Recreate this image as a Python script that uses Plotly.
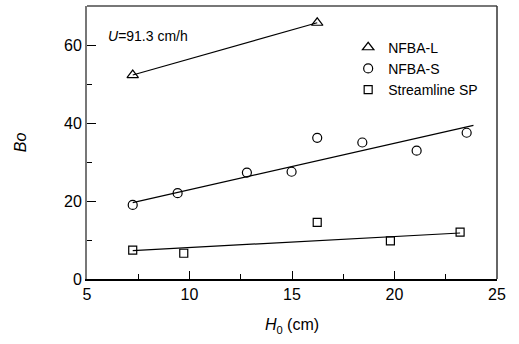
import plotly.graph_objects as go

# Data
nfba_l_x = [7.23, 16.23]
nfba_l_y = [52.3, 65.7]

nfba_s_x = [7.23, 9.42, 12.8, 14.98, 16.23, 18.43, 21.08, 23.52]
nfba_s_y = [19.0, 22.0, 27.3, 27.5, 36.2, 35.0, 32.9, 37.5]

sp_x = [7.23, 9.72, 16.23, 19.8, 23.2]
sp_y = [7.4, 6.6, 14.5, 9.8, 12.0]

# Fitted lines (endpoints)
fit_l_x = [7.23, 16.23]
fit_l_y = [52.3, 65.7]
fit_s_x = [7.23, 23.85]
fit_s_y = [19.6, 39.4]
fit_sp_x = [7.23, 23.2]
fit_sp_y = [7.3, 11.8]

x_ticks = [5, 10, 15, 20, 25]
y_ticks = [0, 20, 40, 60]

FONT = "Liberation Sans, Arial, sans-serif"

fig = go.Figure()

for fx, fy in [(fit_l_x, fit_l_y), (fit_s_x, fit_s_y), (fit_sp_x, fit_sp_y)]:
    fig.add_trace(go.Scatter(x=fx, y=fy, mode="lines",
                             line=dict(color="black", width=1.2),
                             showlegend=False, hoverinfo="skip"))

fig.add_trace(go.Scatter(x=nfba_l_x, y=nfba_l_y, mode="markers", name="NFBA-L",
                         marker=dict(symbol="triangle-up-open", size=10, color="black",
                                     line=dict(width=1.2))))
fig.add_trace(go.Scatter(x=nfba_s_x, y=nfba_s_y, mode="markers", name="NFBA-S",
                         marker=dict(symbol="circle-open", size=9, color="black",
                                     line=dict(width=1.2))))
fig.add_trace(go.Scatter(x=sp_x, y=sp_y, mode="markers", name="Streamline SP",
                         marker=dict(symbol="square-open", size=8, color="black",
                                     line=dict(width=1.2))))

fig.update_layout(
    width=519, height=344,
    margin=dict(l=87, r=22, t=6, b=65),
    plot_bgcolor="white", paper_bgcolor="white",
    font=dict(family=FONT, size=16, color="black"),
    showlegend=True,
    legend=dict(x=0.637, y=0.906, xanchor="left", yanchor="top",
                bgcolor="rgba(0,0,0,0)", font=dict(size=14, family=FONT),
                tracegroupgap=0, itemsizing="trace"),
    xaxis=dict(range=[5, 25], tickvals=x_ticks, ticks="inside", ticklen=8,
               tickcolor="black", tickwidth=1, showgrid=False, zeroline=False,
               showline=True, linecolor="black", linewidth=2,
               minor=dict(tickvals=[7.5, 12.5, 17.5, 22.5], ticks="inside",
                          ticklen=5, tickcolor="black", tickwidth=1),
               title=dict(text="<i>H</i><sub>0</sub> (cm)", font=dict(size=16), standoff=17),
               tickfont=dict(size=16)),
    yaxis=dict(range=[0, 70], tickvals=y_ticks, ticks="inside", ticklen=9,
               tickcolor="black", tickwidth=1, showgrid=False, zeroline=False,
               showline=True, linecolor="#777777", linewidth=2,
               minor=dict(tickvals=[10, 30, 50], ticks="inside",
                          ticklen=5, tickcolor="black", tickwidth=1),
               title=dict(text="<i>Bo</i>", font=dict(size=16), standoff=33),
               tickfont=dict(size=16)),
    shapes=[
        dict(type="line", xref="paper", yref="paper", x0=0, x1=1, y0=1, y1=1,
             line=dict(color="#777777", width=2)),
        dict(type="line", xref="paper", yref="paper", x0=1, x1=1, y0=0, y1=1,
             line=dict(color="#333333", width=1.5)),
    ],
    annotations=[
        dict(text="<i>U</i>=91.3 cm/h", xref="paper", yref="paper",
             x=0.046, y=0.89, xanchor="left", yanchor="middle",
             showarrow=False, font=dict(size=14, family=FONT)),
    ],
)

fig.write_html("out.html")
